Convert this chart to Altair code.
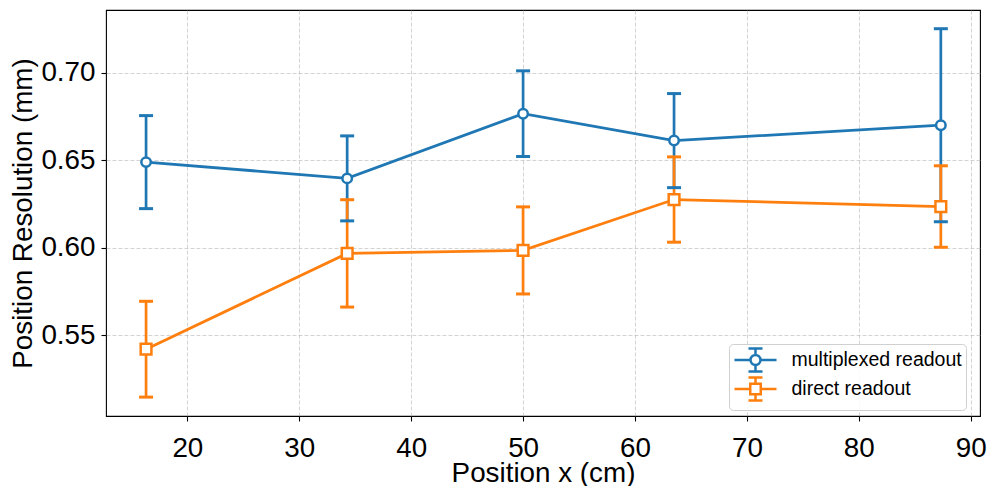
import altair as alt
import pandas as pd

# ---- data ----
positions = [16.31, 34.28, 50.0, 63.49, 87.33]
mux_res = [0.6489, 0.6396, 0.6766, 0.6612, 0.6700]
mux_err = [0.0266, 0.0243, 0.0245, 0.0269, 0.0552]
dir_res = [0.5419, 0.5967, 0.5984, 0.6275, 0.6235]
dir_err = [0.0274, 0.0307, 0.0249, 0.0244, 0.0233]
series_names = ["multiplexed readout", "direct readout"]
series_colors = ["#1f77b4", "#ff7f0e"]
series_shapes = ["circle", "square"]
x_ticks = [20, 30, 40, 50, 60, 70, 80, 90]
y_ticks = [0.55, 0.60, 0.65, 0.70]

rows = []
for name, ys, es in [(series_names[0], mux_res, mux_err), (series_names[1], dir_res, dir_err)]:
    for x, y, e in zip(positions, ys, es):
        rows.append({"series": name, "x": x, "y": y, "err": e})
df = pd.DataFrame(rows)

FONT = "Liberation Sans"

xs = alt.Scale(domain=[12.73, 90.83], nice=False, zero=False)
ys_ = alt.Scale(domain=[0.5037, 0.7359], nice=False, zero=False)
cs = alt.Scale(domain=series_names, range=series_colors)

x_axis = alt.Axis(
    values=x_ticks, title="Position x (cm)", format="d",
    titleX=437, titleY=65, titleBaseline="alphabetic", titleAlign="center",
    labelBaseline="alphabetic", labelPadding=35)
y_axis = alt.Axis(
    values=y_ticks, title="Position Resolution (mm)", format=".2f",
    titleX=-75, titleY=203, titleBaseline="alphabetic", titleAngle=270,
    labelPadding=6)

base = alt.Chart(df).transform_calculate(
    lo="datum.y - datum.err", hi="datum.y + datum.err")

layers = []
# error bars (bars then caps) for both series
for name, col in zip(series_names, series_colors):
    b = base.transform_filter(alt.datum.series == name)
    layers.append(b.mark_rule(strokeWidth=2.7, color=col).encode(
        x=alt.X("x:Q", scale=xs, axis=x_axis),
        y=alt.Y("lo:Q", scale=ys_, axis=y_axis), y2="hi:Q"))
for name, col in zip(series_names, series_colors):
    b = base.transform_filter(alt.datum.series == name)
    for fld in ["lo", "hi"]:
        layers.append(b.mark_tick(orient="horizontal", size=14, thickness=3,
                                  color=col, opacity=1).encode(
            x="x:Q", y=alt.Y(f"{fld}:Q")))
# lines and markers
for name, col in zip(series_names, series_colors):
    b = base.transform_filter(alt.datum.series == name)
    layers.append(b.mark_line(strokeWidth=2.8, color=col).encode(x="x:Q", y="y:Q"))
for name, col, shp, sz in zip(series_names, series_colors, series_shapes, [90, 115]):
    b = base.transform_filter(alt.datum.series == name)
    layers.append(b.mark_point(shape=shp, size=sz, filled=False, fill="white",
                               fillOpacity=1, stroke=col, strokeWidth=2.5,
                               opacity=1).encode(x="x:Q", y="y:Q"))

# legend symbols: line + error bar + marker, in units of sqrt(size)/2 = 10.5 px
circ_path = ("M-2,0L-0.476,0M0.476,0L2,0M0,-0.476L0,-1.095M0,0.476L0,1.095"
             "M-0.667,-1.095L0.667,-1.095M-0.667,1.095L0.667,1.095"
             "M0.476,0A0.476,0.476,0,1,1,-0.476,0A0.476,0.476,0,1,1,0.476,0Z")
sq_path = ("M-2,0L-0.5,0M0.5,0L2,0M0,-0.5L0,-1.095M0,0.5L0,1.095"
           "M-0.667,-1.095L0.667,-1.095M-0.667,1.095L0.667,1.095"
           "M-0.5,-0.5L0.5,-0.5L0.5,0.5L-0.5,0.5Z")

leg = alt.Legend(title=None, orient="none", legendX=623, legendY=334,
                 padding=4, cornerRadius=4, strokeColor="#d0d0d0",
                 fillColor="rgba(255,255,255,0.85)",
                 labelFont=FONT, labelFontSize=19.5, labelColor="black",
                 labelLimit=400,
                 symbolSize=441, symbolStrokeWidth=2.5, symbolFillColor="white",
                 symbolOffset=10.5, labelOffset=24, rowPadding=-6)

legend_layer = base.transform_filter("false").mark_point(
    filled=False, fill="white", strokeWidth=2.5, opacity=1).encode(
    x="x:Q", y="y:Q",
    color=alt.Color("series:N", scale=cs, legend=leg),
    shape=alt.Shape("series:N", scale=alt.Scale(domain=series_names, range=[circ_path, sq_path]), legend=leg))
layers.append(legend_layer)

chart = alt.layer(*layers).properties(
    width=874, height=406,
    autosize=alt.AutoSizeParams(type="none"),
    padding={"left": 98, "top": 2, "right": 8, "bottom": 70},
).configure_view(stroke="black", strokeWidth=1.1).configure_axis(
    labelFont=FONT, titleFont=FONT, labelFontSize=27.8, titleFontSize=27.8,
    labelColor="black", titleColor="black", titleFontWeight="normal",
    domain=False, tickColor="black", tickSize=5, tickWidth=1.1,
    grid=True, gridColor="#b0b0b0", gridOpacity=0.7, gridWidth=0.8, gridDash=[4, 2],
    labelFlush=False, labelOverlap=False,
)

chart.save("out.html", embed_options={"renderer": "svg", "actions": False})
